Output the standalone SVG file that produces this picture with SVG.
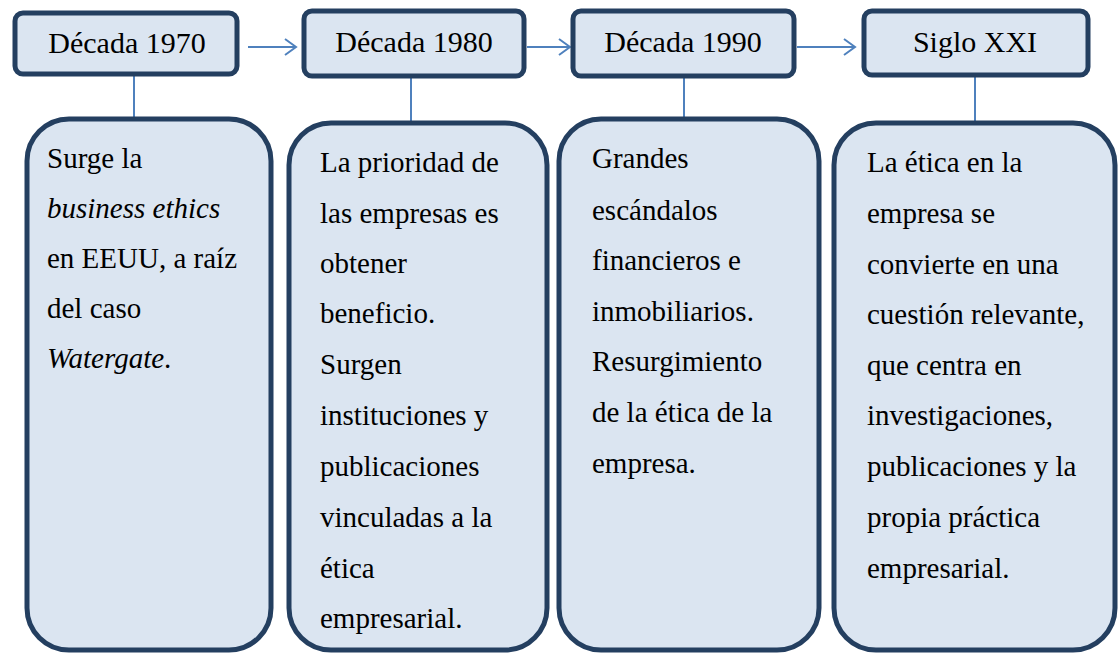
<svg xmlns="http://www.w3.org/2000/svg" width="1118" height="655" viewBox="0 0 1118 655">
<defs>
<style>
.hdr{fill:#DBE5F1;stroke:#243F60;stroke-width:5}
.big{fill:#DBE5F1;stroke:#243F60;stroke-width:5}
.t{font-family:"Liberation Serif","Times New Roman",serif;font-size:29px;fill:#000}
.h{font-family:"Liberation Serif","Times New Roman",serif;font-size:30px;fill:#000;text-anchor:middle}
.c{stroke:#4F81BD;stroke-width:2;fill:none}
</style>
<marker id="arr" markerWidth="14" markerHeight="18" refX="12" refY="9" orient="auto" markerUnits="userSpaceOnUse">
<path d="M1,1 L12,9 L1,17" fill="none" stroke="#4F81BD" stroke-width="2"/>
</marker>
</defs>
<rect width="1118" height="655" fill="#fff"/>
<g id="connectors">
<line class="c" x1="248" y1="47" x2="296" y2="47" marker-end="url(#arr)"/>
<line class="c" x1="527" y1="47" x2="570" y2="47" marker-end="url(#arr)"/>
<line class="c" x1="797" y1="47" x2="855" y2="47" marker-end="url(#arr)"/>
<line class="c" x1="134" y1="75" x2="134" y2="119"/>
<line class="c" x1="411" y1="77" x2="411" y2="123"/>
<line class="c" x1="684" y1="77" x2="684" y2="119"/>
<line class="c" x1="975" y1="76" x2="975" y2="123"/>
</g>
<g id="h1"><rect class="hdr" x="15" y="13" width="222" height="61" rx="8"/><text class="h" x="127" y="53">Década 1970</text></g>
<g id="h2"><rect class="hdr" x="304" y="11" width="220" height="65" rx="8"/><text class="h" x="414" y="52">Década 1980</text></g>
<g id="h3"><rect class="hdr" x="573" y="11" width="221" height="65" rx="8"/><text class="h" x="683" y="52">Década 1990</text></g>
<g id="h4"><rect class="hdr" x="864" y="11" width="224" height="64" rx="8"/><text class="h" x="975" y="52">Siglo XXI</text></g>
<g id="b1"><rect class="big" x="27" y="119" width="244" height="531" rx="42"/>
<text class="t" x="47" y="168">Surge la</text>
<text class="t" x="47" y="218" font-style="italic">business ethics</text>
<text class="t" x="47" y="268">en EEUU, a raíz</text>
<text class="t" x="47" y="318">del caso</text>
<text class="t" x="47" y="368"><tspan font-style="italic">Watergate</tspan>.</text>
</g>
<g id="b2"><rect class="big" x="289" y="123" width="258" height="527" rx="42"/>
<text class="t" x="320" y="172">La prioridad de</text>
<text class="t" x="320" y="223">las empresas es</text>
<text class="t" x="320" y="273">obtener</text>
<text class="t" x="320" y="323">beneficio.</text>
<text class="t" x="320" y="374">Surgen</text>
<text class="t" x="320" y="425">instituciones y</text>
<text class="t" x="320" y="476">publicaciones</text>
<text class="t" x="320" y="527">vinculadas a la</text>
<text class="t" x="320" y="578">ética</text>
<text class="t" x="320" y="628">empresarial.</text>
</g>
<g id="b3"><rect class="big" x="559" y="119" width="260" height="531" rx="42"/>
<text class="t" x="592" y="168">Grandes</text>
<text class="t" x="592" y="220">escándalos</text>
<text class="t" x="592" y="270">financieros e</text>
<text class="t" x="592" y="321">inmobiliarios.</text>
<text class="t" x="592" y="371">Resurgimiento</text>
<text class="t" x="592" y="422">de la ética de la</text>
<text class="t" x="592" y="473">empresa.</text>
</g>
<g id="b4"><rect class="big" x="834" y="123" width="281" height="527" rx="42"/>
<text class="t" x="867" y="172">La ética en la</text>
<text class="t" x="867" y="223">empresa se</text>
<text class="t" x="867" y="274">convierte en una</text>
<text class="t" x="867" y="324">cuestión relevante,</text>
<text class="t" x="867" y="375">que centra en</text>
<text class="t" x="867" y="425">investigaciones,</text>
<text class="t" x="867" y="476">publicaciones y la</text>
<text class="t" x="867" y="527">propia práctica</text>
<text class="t" x="867" y="578">empresarial.</text>
</g>
</svg>
